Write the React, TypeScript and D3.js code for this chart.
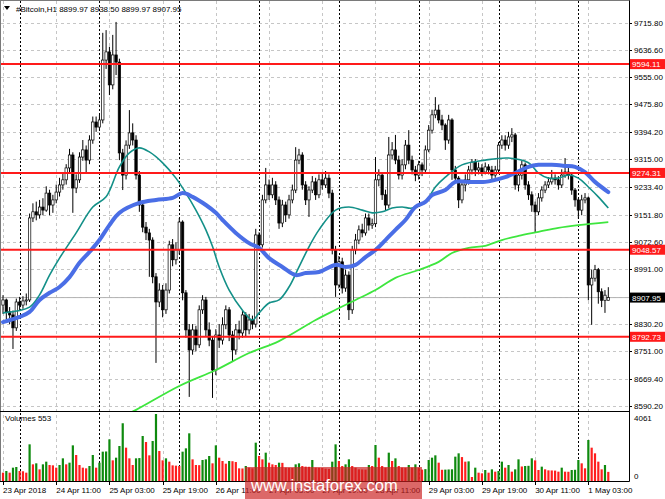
import React from 'react';
import * as d3 from 'd3';

// ---------- DATA ----------
const symbolTitle = '#Bitcoin,H1';
const headerOHLC = ['8899.97', '8938.50', '8899.97', '8907.95'];

const opens = [
  8886, 8901, 8866, 8857, 8819, 8895, 8886, 8898, 8901, 9142,
  9160, 9151, 9174, 9165, 9215, 9180, 9195, 9218, 9239, 9254,
  9289, 9327, 9230, 9254, 9321, 9342, 9312, 9371, 9424, 9409,
  9430, 9606, 9630, 9533, 9621, 9600, 9333, 9268, 9356, 9392,
  9371, 9268, 9180, 9115, 9098, 9077, 8969, 8895, 8930, 8872,
  8930, 9063, 9019, 9048, 9130, 8922, 8813, 8754, 8813, 8769,
  8872, 8901, 8813, 8783, 8695, 8798, 8783, 8828, 8872, 8798,
  8754, 8813, 8804, 8857, 8813, 8842, 8830, 9092, 9063, 9195,
  9239, 9210, 9239, 9195, 9127, 9180, 9151, 9195, 9224, 9312,
  9327, 9239, 9195, 9224, 9248, 9210, 9254, 9239, 9259, 9215,
  9048, 8945, 9013, 8936, 8974, 8872, 9048, 9077, 9107, 9098,
  9142, 9121, 9125, 9254, 9268, 9210, 9180, 9327, 9342, 9312,
  9268, 9298, 9356, 9312, 9283, 9268, 9298, 9283, 9342, 9400,
  9445, 9459, 9430, 9415, 9371, 9430, 9283, 9259, 9195, 9239,
  9254, 9283, 9306, 9283, 9289, 9277, 9292, 9283, 9268, 9283,
  9356, 9371, 9356, 9380, 9386, 9239, 9268, 9298, 9239, 9210,
  9180, 9160, 9201, 9224, 9239, 9248, 9259, 9254, 9239, 9268,
  9277, 9268, 9224, 9195, 9165, 9195, 9201, 8945, 8965, 8990,
  8925, 8900, 8899.97,
];
const closes = [
  8901, 8866, 8857, 8819, 8895, 8886, 8898, 8901, 9142, 9160,
  9151, 9174, 9165, 9215, 9180, 9195, 9218, 9239, 9254, 9289,
  9327, 9230, 9254, 9321, 9342, 9312, 9371, 9424, 9409, 9430,
  9606, 9630, 9533, 9621, 9600, 9333, 9268, 9356, 9392, 9371,
  9268, 9180, 9115, 9098, 9077, 8969, 8895, 8930, 8872, 8930,
  9063, 9019, 9048, 9130, 8922, 8813, 8754, 8813, 8769, 8872,
  8901, 8813, 8783, 8695, 8798, 8783, 8828, 8872, 8798, 8754,
  8813, 8804, 8857, 8813, 8842, 8830, 9092, 9063, 9195, 9239,
  9210, 9239, 9195, 9127, 9180, 9151, 9195, 9224, 9312, 9327,
  9239, 9195, 9224, 9248, 9210, 9254, 9239, 9259, 9215, 9048,
  8945, 9013, 8936, 8974, 8872, 9048, 9077, 9107, 9098, 9142,
  9121, 9125, 9254, 9268, 9210, 9180, 9327, 9342, 9312, 9268,
  9298, 9356, 9312, 9283, 9268, 9298, 9283, 9342, 9400, 9445,
  9459, 9430, 9415, 9371, 9430, 9283, 9259, 9195, 9239, 9254,
  9283, 9306, 9283, 9289, 9277, 9292, 9283, 9268, 9283, 9356,
  9371, 9356, 9380, 9386, 9239, 9268, 9298, 9239, 9210, 9180,
  9160, 9201, 9224, 9239, 9248, 9259, 9254, 9239, 9268, 9277,
  9268, 9224, 9195, 9165, 9195, 9201, 8945, 8965, 8990, 8925,
  8900, 8915, 8907.95,
];
const highs = [
  8915, 8905, 8880, 8870, 8905, 8910, 8912, 8920, 9155, 9185,
  9190, 9195, 9200, 9235, 9225, 9210, 9240, 9260, 9275, 9300,
  9345, 9335, 9270, 9335, 9371, 9355, 9385, 9440, 9440, 9445,
  9686, 9694, 9645, 9680, 9718, 9610, 9345, 9370, 9459, 9420,
  9385, 9280, 9190, 9130, 9110, 9085, 8980, 8950, 8945, 8950,
  9075, 9080, 9070, 9142, 9135, 8930, 8830, 8830, 8825, 8885,
  8915, 8910, 8835, 8795, 8815, 8830, 8850, 8885, 8880, 8810,
  8830, 8840, 8870, 8865, 8860, 8855, 9110, 9100, 9210, 9289,
  9255, 9260, 9250, 9205, 9195, 9190, 9210, 9240, 9350, 9345,
  9335, 9250, 9235, 9265, 9260, 9270, 9275, 9280, 9270, 9225,
  9060, 9030, 9025, 8990, 8985, 9060, 9095, 9120, 9125, 9155,
  9155, 9140, 9321, 9285, 9275, 9225, 9380, 9365, 9386, 9325,
  9315, 9371, 9400, 9325, 9295, 9310, 9305, 9355, 9415, 9460,
  9497, 9475, 9445, 9420, 9445, 9435, 9295, 9265, 9250, 9270,
  9295, 9315, 9315, 9305, 9300, 9305, 9300, 9295, 9295, 9365,
  9385, 9385, 9395, 9406, 9392, 9280, 9310, 9305, 9250, 9220,
  9190, 9215, 9235, 9250, 9262, 9283, 9270, 9265, 9285, 9318,
  9290, 9275, 9230, 9200, 9210, 9215, 9205, 8990, 9004, 8995,
  8935, 8930, 8938.5,
];
const lows = [
  8860, 8845, 8830, 8757, 8810, 8870, 8875, 8885, 8895, 9130,
  9135, 9140, 9150, 9160, 9150, 9157, 9185, 9205, 9225, 9240,
  9275, 9157, 9215, 9245, 9310, 9274, 9300, 9360, 9395, 9400,
  9420, 9580, 9503, 9520, 9562, 9312, 9224, 9255, 9345, 9355,
  9255, 9160, 9100, 9077, 8969, 8950, 8716, 8880, 8850, 8860,
  8920, 9000, 9005, 9035, 8900, 8790, 8616, 8740, 8750, 8760,
  8860, 8795, 8765, 8613, 8680, 8760, 8770, 8815, 8780, 8720,
  8740, 8785, 8790, 8795, 8800, 8815, 8820, 9045, 9055, 9185,
  9195, 9200, 9180, 9110, 9115, 9130, 9140, 9185, 9215, 9300,
  9225, 9180, 9145, 9215, 9195, 9200, 9225, 9230, 9200, 9035,
  8910, 8935, 8920, 8925, 8842, 8860, 9035, 9065, 9085, 9090,
  9105, 9110, 9115, 9235, 9195, 9165, 9170, 9315, 9300, 9255,
  9255, 9285, 9300, 9270, 9250, 9255, 9265, 9275, 9335, 9390,
  9435, 9420, 9400, 9342, 9360, 9254, 9245, 9171, 9185, 9220,
  9240, 9270, 9265, 9270, 9265, 9270, 9270, 9255, 9260, 9275,
  9345, 9340, 9345, 9365, 9225, 9220, 9255, 9225, 9195, 9160,
  9098, 9150, 9190, 9215, 9230, 9240, 9240, 9225, 9230, 9260,
  9255, 9210, 9175, 9140, 9150, 9185, 8900, 8828, 8955, 8890,
  8880, 8863, 8899.97,
];
const volumes = [
  505, 606, 505, 808, 848, 606, 590, 505, 2222, 1010,
  1071, 707, 1010, 1172, 970, 950, 808, 970, 1374, 1010,
  1111, 2161, 1576, 970, 808, 768, 909, 1576, 808, 1111,
  1778, 1790, 2525, 1252, 1414, 2121, 3500, 2020, 1374, 970,
  1374, 1390, 2727, 2363, 1556, 2424, 4061, 1818, 1252, 1374,
  1172, 949, 930, 910, 1778, 1980, 2890, 1313, 970, 960,
  1273, 1313, 1515, 1071, 2161, 1414, 1212, 1050, 1212, 1200,
  1150, 768, 760, 909, 808, 768, 2323, 1515, 1313, 1717,
  1111, 1010, 970, 1111, 1100, 808, 800, 790, 1010, 1071,
  909, 870, 860, 1273, 808, 800, 790, 747, 730, 1172,
  2222, 1212, 909, 1010, 1313, 909, 808, 707, 700, 690,
  970, 909, 2182, 1414, 909, 808, 1717, 1212, 1374, 909,
  808, 800, 970, 808, 1010, 808, 690, 720, 1273, 1414,
  1556, 1111, 680, 690, 700, 710, 1475, 1677, 1450, 1172,
  1190, 242, 808, 505, 465, 667, 505, 707, 566, 606,
  1172, 808, 970, 566, 707, 1313, 880, 909, 920, 1374,
  1252, 667, 869, 707, 646, 640, 630, 566, 808, 566,
  560, 667, 680, 1273, 1071, 768, 2485, 2020, 1677, 1172,
  707, 970, 553,
];

// moving averages sampled as [bar index, price]
const tealMA: [number, number][] = [
  [0, 8863], [8, 8880], [11, 8916], [14, 8974], [17, 9024], [22, 9098], [27, 9174],
  [31, 9204], [35, 9292], [38, 9333], [41, 9348], [44, 9336], [48, 9304], [52, 9259],
  [55, 9215], [58, 9165], [61, 9107], [63, 9058], [65, 8998], [68, 8930], [72, 8871],
  [75, 8842], [77, 8863], [80, 8892], [83, 8901], [86, 8939], [89, 8998], [92, 9057],
  [95, 9107], [100, 9165], [104, 9174], [108, 9165], [111, 9157], [114, 9160],
  [117, 9171], [120, 9174], [123, 9171], [127, 9189], [130, 9233], [133, 9262],
  [138, 9298], [145, 9312], [152, 9318], [158, 9304], [161, 9274], [164, 9259],
  [167, 9259], [170, 9268], [173, 9259], [176, 9233], [179, 9204], [182, 9171],
];
const blueMA: [number, number][] = [
  [0, 8836], [5, 8851], [8, 8866], [11, 8901], [14, 8922], [17, 8939], [20, 8968],
  [23, 9010], [26, 9042], [29, 9077], [32, 9121], [35, 9157], [41, 9186], [46, 9195],
  [51, 9201], [54, 9215], [57, 9204], [61, 9180], [64, 9157], [66, 9136], [70, 9098],
  [74, 9068], [77, 9054], [80, 9024], [84, 8998], [88, 8974], [91, 8980], [95, 8983],
  [100, 9004], [103, 8998], [106, 9004], [109, 9027], [112, 9048], [115, 9077],
  [118, 9107], [121, 9136], [124, 9174], [127, 9189], [129, 9209], [133, 9224],
  [136, 9248], [140, 9248], [145, 9248], [148, 9254], [151, 9262], [154, 9274],
  [158, 9292], [161, 9298], [165, 9298], [169, 9295], [172, 9292], [175, 9277],
  [178, 9248], [182, 9218],
];
const greenMA: [number, number][] = [
  [36, 8560], [40, 8578], [53, 8648], [64, 8695], [74, 8745], [83, 8780], [94, 8842],
  [100, 8872], [106, 8901], [112, 8930], [118, 8966], [125, 8989], [131, 9013],
  [135, 9039], [140, 9054], [145, 9060], [150, 9077], [155, 9089], [161, 9101],
  [167, 9113], [173, 9121], [182, 9130],
];

const levels = [9594.11, 9274.31, 9048.57, 8792.73];
const priceTicks = [9715.8, 9636.6, 9555.0, 9475.8, 9394.2, 9315.0, 9233.4, 9151.8, 9072.6, 8991.0, 8910.6, 8830.2, 8751.0, 8669.4, 8590.2];
const dateLabels = ['23 Apr 2018', '24 Apr 11:00', '25 Apr 03:00', '25 Apr 19:00', '26 Apr 11:00', '27 Apr 03:00', '27 Apr 19:00', '28 Apr 11:00', '29 Apr 03:00', '29 Apr 19:00', '30 Apr 11:00', '1 May 03:00'];
const dateLabelBars = [0, 16, 32, 48, 64, 80, 96, 112, 128, 144, 160, 176];
const daySeparatorBars = [5, 29, 53, 77, 101, 125, 149, 173];
const lastPrice = 8907.95;
const volumeMax = 4061;
const lastVolume = 553;
const watermark = 'www.instaforex.com';

// ---------- CHART ----------
export default function App() {
  const W = 665, H = 499;
  const font = '"Liberation Sans", Arial, sans-serif';
  const mainTop = 1, mainBottom = 411, plotRight = 629;
  const volTop = 412, volBottom = 481;

  const x = d3.scaleLinear().domain([0, closes.length - 1]).range([3, 608.3]);
  const y = d3.scaleLinear().domain([8590.2, 9715.8]).range([405.7, 22.7]);
  const yv = d3.scaleLinear().domain([0, volumeMax]).range([volBottom, 414]);

  const maLine = d3.line<[number, number]>()
    .x(d => x(d[0]))
    .y(d => y(d[1]))
    .curve(d3.curveCatmullRom.alpha(0.5));

  const bodyW = 2.4;
  // tick labels hidden under the coloured price boxes are not drawn
  const boxed = [...levels, lastPrice];
  const hidden = (p: number) => boxed.some(b => Math.abs(y(b) - y(p)) < 7);

  return (
    <svg width={W} height={H} viewBox={`0 0 ${W} ${H}`}
      style={{ position: 'absolute', left: 0, top: 0, background: '#fff' }}
      fontFamily={font}>
      <defs>
        <clipPath id="mainClip">
          <rect x={1} y={mainTop} width={plotRight - 1} height={mainBottom - mainTop} />
        </clipPath>
        <clipPath id="volClip">
          <rect x={1} y={volTop} width={plotRight - 1} height={volBottom - volTop} />
        </clipPath>
      </defs>
      <rect x={0} y={0} width={W} height={H} fill="#fff" />

      {/* horizontal grid */}
      {priceTicks.map((p, k) => (
        <line key={'hg' + k} x1={1} x2={plotRight} y1={Math.round(y(p)) + 0.5} y2={Math.round(y(p)) + 0.5}
          stroke="#c6c6c6" strokeWidth={1} strokeDasharray="3,3" />
      ))}
      {/* vertical grid at label ticks */}
      {dateLabelBars.map((b, k) => (
        <line key={'vg' + k} x1={Math.round(x(b)) + 0.5} x2={Math.round(x(b)) + 0.5} y1={mainTop} y2={volBottom}
          stroke="#c6c6c6" strokeWidth={1} strokeDasharray="3,3" />
      ))}
      {/* day separators */}
      {daySeparatorBars.map((b, k) => (
        <line key={'ds' + k} x1={Math.round(x(b)) + 0.5} x2={Math.round(x(b)) + 0.5} y1={mainTop} y2={volBottom}
          stroke="#000" strokeWidth={1} strokeDasharray="2,2" />
      ))}

      {/* current price line */}
      <line x1={1} x2={plotRight} y1={y(lastPrice)} y2={y(lastPrice)} stroke="#b4b4b4" strokeWidth={1} />

      <g clipPath="url(#mainClip)">
        {/* candles */}
        {closes.map((c, i) => {
          const o = opens[i];
          const up = c >= o;
          const cx = x(i);
          const top = y(Math.max(o, c));
          const bot = y(Math.min(o, c));
          return (
            <g key={'c' + i}>
              <line x1={cx} x2={cx} y1={y(highs[i])} y2={y(lows[i])} stroke="#000" strokeWidth={1} />
              <rect x={cx - bodyW / 2} y={top} width={bodyW} height={Math.max(bot - top, 0.8)}
                fill={up ? '#fff' : '#000'} stroke="#000" strokeWidth={0.7} />
            </g>
          );
        })}
        {/* moving averages */}
        <path d={maLine(greenMA) || ''} fill="none" stroke="#3ee63e" strokeWidth={1.8} />
        <path d={maLine(tealMA) || ''} fill="none" stroke="#139088" strokeWidth={1.6} />
        <path d={maLine(blueMA) || ''} fill="none" stroke="#4a6ee6" strokeWidth={4} strokeLinecap="round" />
        {/* levels */}
        {levels.map((lv, k) => (
          <line key={'lv' + k} x1={1} x2={plotRight} y1={y(lv)} y2={y(lv)} stroke="#ff1a1a" strokeWidth={2} />
        ))}
      </g>

      {/* volumes */}
      <g clipPath="url(#volClip)">
        {volumes.map((v, i) => {
          const rising = i > 0 && v > volumes[i - 1];
          return (
            <rect key={'v' + i} x={x(i) - 1.1} y={yv(v)} width={2.2} height={volBottom - yv(v)}
              fill={rising ? '#0e8a0e' : '#ff1e1e'} />
          );
        })}
      </g>

      {/* frames */}
      <line x1={0.5} x2={0.5} y1={0} y2={volBottom} stroke="#7a7a7a" />
      <line x1={plotRight + 0.5} x2={plotRight + 0.5} y1={0} y2={volBottom + 0.5} stroke="#000" />
      <line x1={0} x2={plotRight + 0.5} y1={mainBottom + 0.5} y2={mainBottom + 0.5} stroke="#000" />
      <line x1={0} x2={plotRight + 0.5} y1={volBottom + 0.5} y2={volBottom + 0.5} stroke="#000" />
      <line x1={0} x2={plotRight + 0.5} y1={0.5} y2={0.5} stroke="#7a7a7a" />

      {/* price axis */}
      {priceTicks.map((p, k) => (
        <g key={'pt' + k}>
          <line x1={plotRight} x2={plotRight + 3} y1={Math.round(y(p)) + 0.5} y2={Math.round(y(p)) + 0.5} stroke="#000" />
          {!hidden(p) && <text x={634} y={y(p) + 3} fontSize={8} fill="#000">{p.toFixed(2)}</text>}
        </g>
      ))}
      {levels.map((lv, k) => (
        <g key={'ll' + k}>
          <rect x={630} y={y(lv) - 5} width={35} height={10} fill="#ff1a1a" />
          <text x={632} y={y(lv) + 3} fontSize={8} fill="#fff">{lv.toFixed(2)}</text>
        </g>
      ))}
      <rect x={630} y={y(lastPrice) - 5} width={35} height={10} fill="#000" />
      <text x={632} y={y(lastPrice) + 3} fontSize={8} fill="#fff">{lastPrice.toFixed(2)}</text>

      {/* volume axis */}
      <text x={634} y={421} fontSize={8} fill="#000">{volumeMax}</text>
      <text x={634} y={479} fontSize={8} fill="#000">0</text>
      <text x={5} y={421} fontSize={8} fill="#000">{`Volumes ${lastVolume}`}</text>

      {/* time axis */}
      {dateLabelBars.map((b, k) => (
        <g key={'dl' + k}>
          <line x1={Math.round(x(b)) + 0.5} x2={Math.round(x(b)) + 0.5} y1={volBottom} y2={volBottom + 4} stroke="#000" />
          <text x={x(b)} y={493} fontSize={8} fill="#000">{dateLabels[k]}</text>
        </g>
      ))}

      {/* header */}
      <path d="M4,6 L10,6 L7,10 Z" fill="#000" />
      <text x={16} y={11.5} fontSize={8} fill="#000">{`${symbolTitle}  ${headerOHLC.join(' ')}`}</text>

      {/* watermark */}
      <rect x={245} y={467} width={177} height={32} fill="#cc2020" opacity={0.68} />
      <text x={251} y={491} fontSize={16.5} fill="#fff" fontFamily={font}>{watermark}</text>
    </svg>
  );
}
